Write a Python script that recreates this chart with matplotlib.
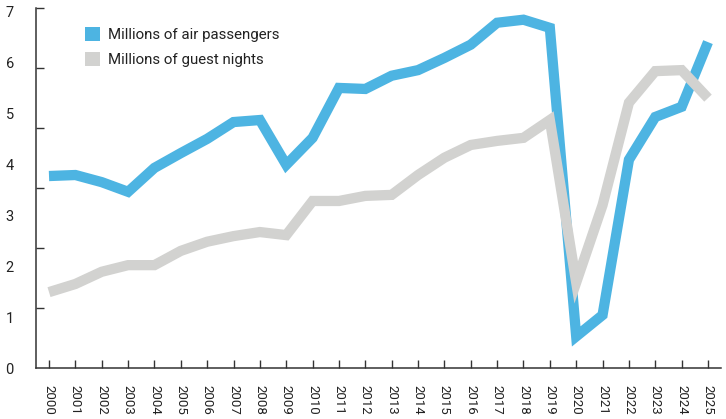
import matplotlib
matplotlib.use("Agg")
import matplotlib.pyplot as plt
from matplotlib.patches import Patch
import numpy as np

years = list(range(2000, 2026))
air_passengers = [3.77, 3.79, 3.65, 3.46, 3.93, 4.22, 4.50, 4.83, 4.87, 3.99,
                  4.52, 5.50, 5.48, 5.74, 5.85, 6.09, 6.35, 6.78, 6.84, 6.68,
                  0.62, 1.04, 4.09, 4.93, 5.13, 6.40]
guest_nights = [1.49, 1.65, 1.89, 2.02, 2.02, 2.30, 2.48, 2.59, 2.67, 2.61,
                3.28, 3.28, 3.38, 3.40, 3.79, 4.13, 4.38, 4.46, 4.52, 4.87,
                1.68, 3.20, 5.21, 5.83, 5.85, 5.30]
y_labels = [0, 1, 2, 3, 4, 5, 6, 7]
series_names = ["Millions of air passengers", "Millions of guest nights"]

BLUE = "#4DB4E2"
GREY = "#D2D2D0"
AXC = "#333333"

plt.rcParams['font.family'] = ['Roboto', 'DejaVu Sans']

fig = plt.figure(figsize=(7.26, 4.19), dpi=100)
ax = fig.add_axes([36/726, 51/419, (721-36)/726, 360/419])

ymax = 7.07
ax.plot(years, air_passengers, color=BLUE, lw=7.4, solid_joinstyle='miter',
        solid_capstyle='butt', zorder=2)
ax.plot(years, guest_nights, color=GREY, lw=7.4, solid_joinstyle='miter',
        solid_capstyle='butt', zorder=3)

ax.set_xlim(2000 - 13/26.36, 2025 + 13/26.36)
ax.set_ylim(0, ymax)

for s in ['top', 'right']:
    ax.spines[s].set_visible(False)
for s in ['left', 'bottom']:
    ax.spines[s].set_color(AXC)
    ax.spines[s].set_linewidth(1.1)

ax.set_xticks(years)
ax.set_xticklabels([str(y) for y in years], rotation=-90, fontsize=9.5, color="#222222")
ax.tick_params(axis='x', direction='in', length=5.5, width=1.0, color=AXC, pad=12)

ax.set_yticks(y_labels)
ax.set_yticklabels([str(v) for v in y_labels], fontsize=10.5, color="#222222")
ax.tick_params(axis='y', which='major', length=0, pad=16)
ax.set_yticks([k * ymax / 6 for k in range(7)], minor=True)
ax.tick_params(axis='y', which='minor', direction='in', length=5.5, width=1.0, color=AXC)

handles = [Patch(facecolor=BLUE, edgecolor='none'), Patch(facecolor=GREY, edgecolor='none')]
fig.legend(handles, series_names, loc='upper left', bbox_to_anchor=(80/726, 1 - 23/419),
           frameon=False, handlelength=1.0, handleheight=1.0, handletextpad=0.55,
           labelspacing=0.65, fontsize=10.8, borderaxespad=0, borderpad=0.3,
           labelcolor="#222222")

fig.savefig("out.png", dpi=100)
